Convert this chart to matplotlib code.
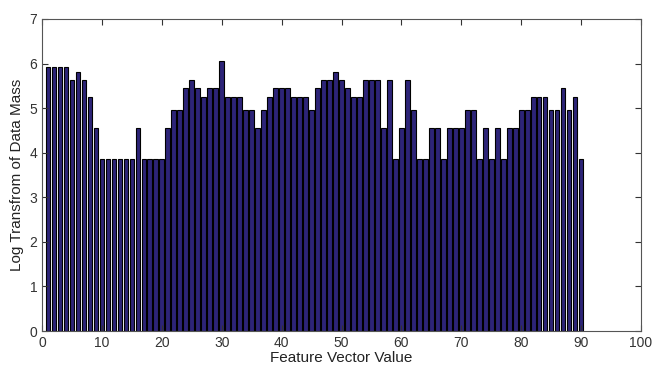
import matplotlib
matplotlib.use("Agg")
import matplotlib.pyplot as plt
import numpy as np

# feature vector values 1..90 and their log-transformed data mass
features = list(range(1, 91))
log_mass = [
    5.93, 5.93, 5.93, 5.93, 5.64, 5.80, 5.64, 5.24, 4.55, 3.85,
    3.85, 3.85, 3.85, 3.85, 3.85, 4.55, 3.85, 3.85, 3.85, 3.85,
    4.55, 4.96, 4.96, 5.46, 5.64, 5.46, 5.24, 5.46, 5.46, 6.05,
    5.24, 5.24, 5.24, 4.96, 4.96, 4.55, 4.96, 5.24, 5.46, 5.46,
    5.46, 5.24, 5.24, 5.24, 4.96, 5.46, 5.64, 5.64, 5.80, 5.64,
    5.46, 5.24, 5.24, 5.64, 5.64, 5.64, 4.55, 5.64, 3.85, 4.55,
    5.64, 4.96, 3.85, 3.85, 4.55, 4.55, 3.85, 4.55, 4.55, 4.55,
    4.96, 4.96, 3.85, 4.55, 3.85, 4.55, 3.85, 4.55, 4.55, 4.96,
    4.96, 5.24, 5.24, 5.24, 4.96, 4.96, 5.46, 4.96, 5.24, 3.85,
]

plt.rcParams['font.family'] = ['Liberation Sans', 'DejaVu Sans']

fig = plt.figure(figsize=(6.58, 3.65), dpi=100)
ax = fig.add_axes([0.064, 0.093, 0.91, 0.855])

ax.bar(features, log_mass, width=0.8, color='#2d2478', edgecolor='black', linewidth=0.8)

ax.set_xlim(0, 100)
ax.set_ylim(0, 7)
ax.set_xticks(np.arange(0, 101, 10))
ax.set_yticks(np.arange(0, 8, 1))
ax.tick_params(direction='in', top=True, right=True, labelsize=10, colors='#333333', length=4)
for s in ax.spines.values():
    s.set_color('#555555')
    s.set_linewidth(0.8)

ax.set_xlabel('Feature Vector Value', fontsize=11, color='#222222', labelpad=1)
ax.set_ylabel('Log Transfrom of Data Mass', fontsize=11, color='#222222', labelpad=4)

fig.savefig('out.png', dpi=100)
